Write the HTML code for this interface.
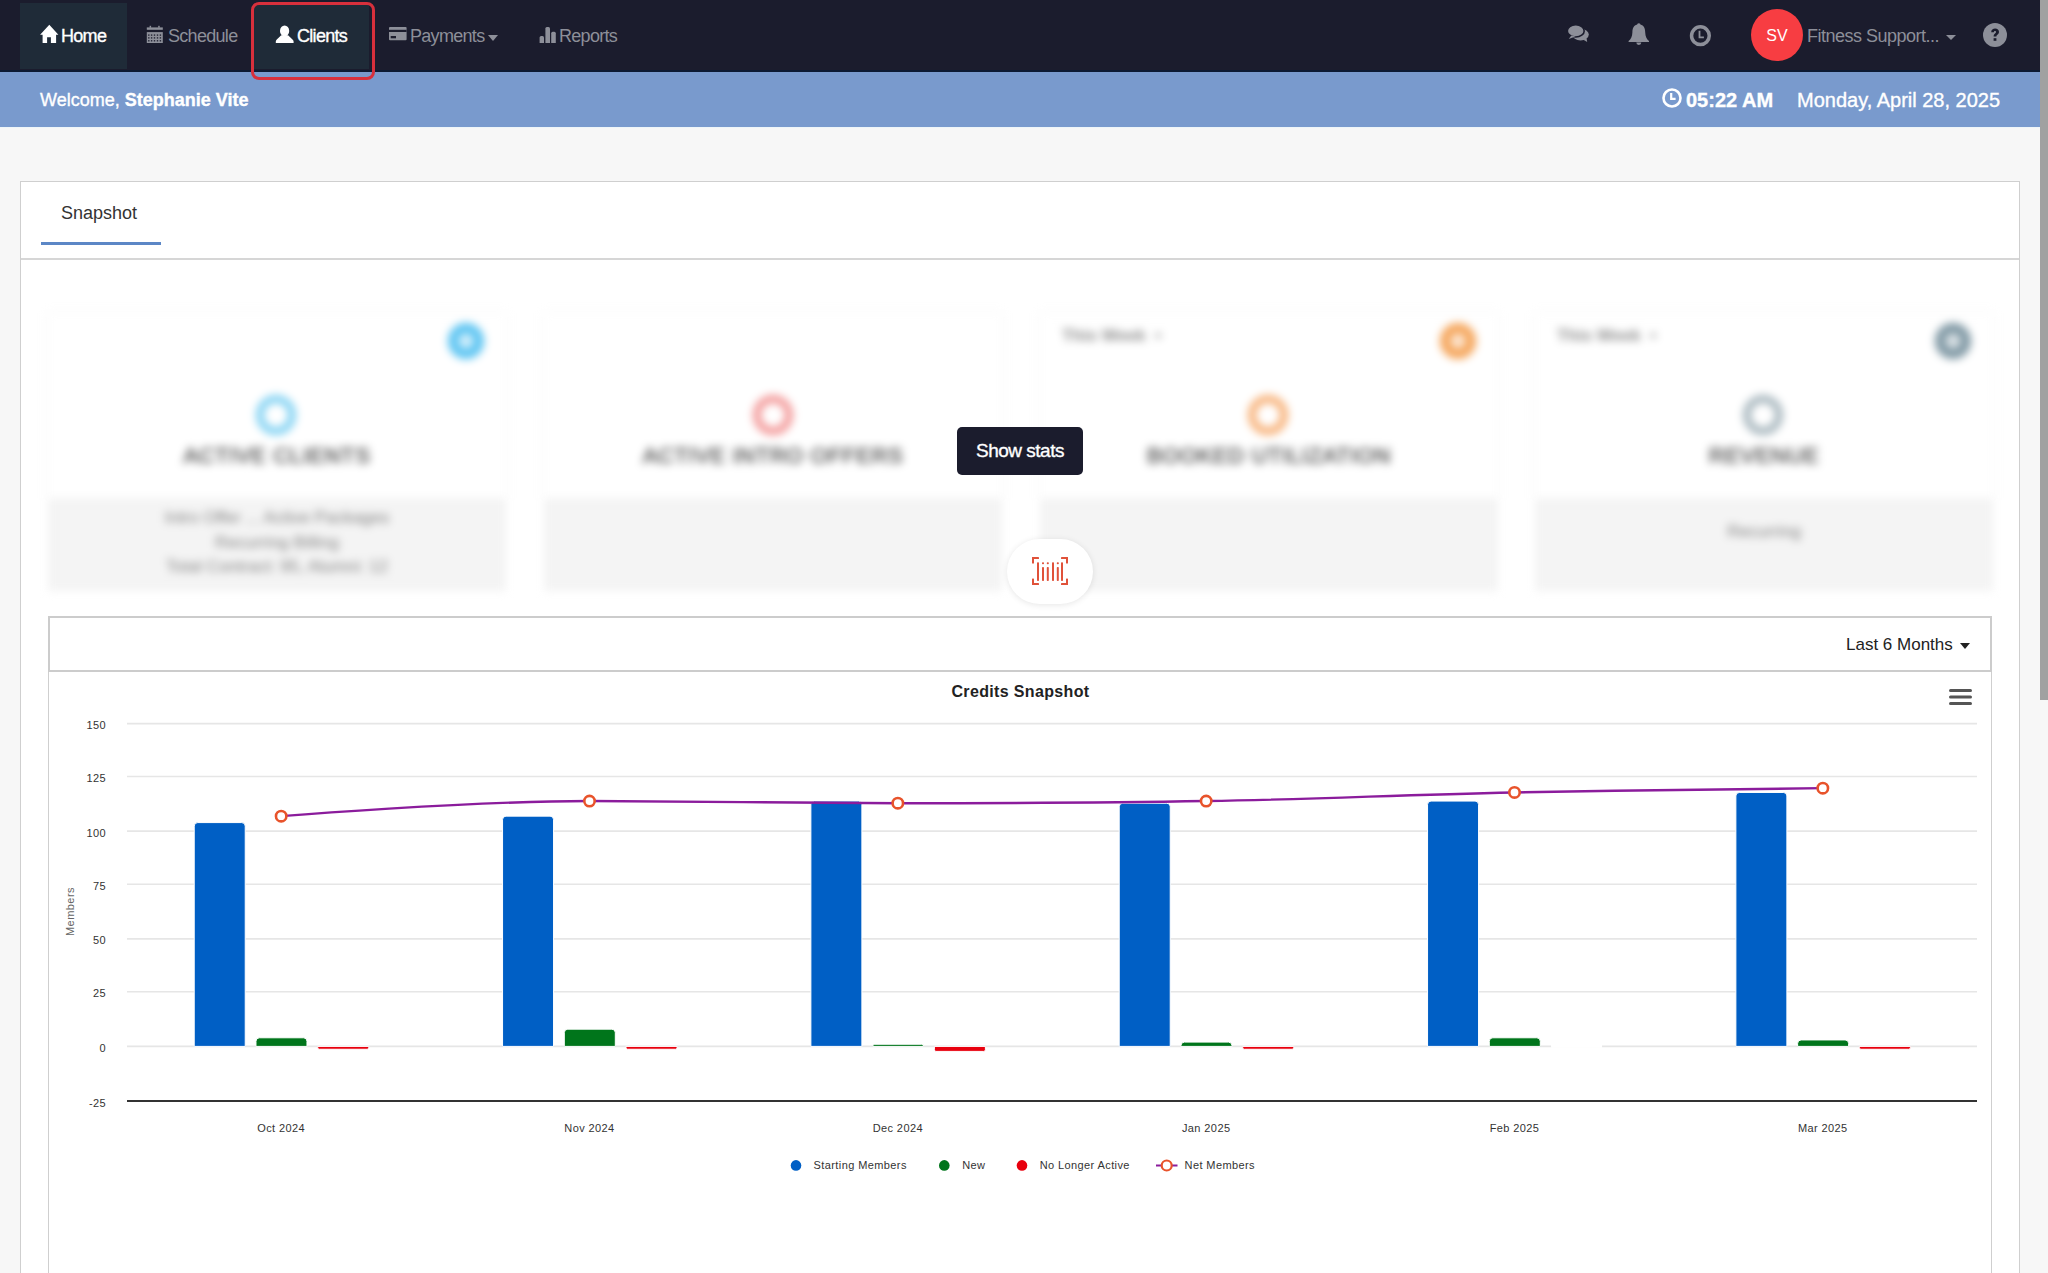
<!DOCTYPE html>
<html><head><meta charset="utf-8">
<style>
*{box-sizing:border-box;margin:0;padding:0}
html,body{width:2048px;height:1273px;overflow:hidden;background:#f7f7f7;font-family:"Liberation Sans",sans-serif;position:relative;-webkit-font-smoothing:antialiased}
.abs{position:absolute}
.nav{left:0;top:0;width:2040px;height:71px;background:#1b1c2d}
.navline{left:0;top:70px;width:2040px;height:2px;background:#0d1a33}
.tab{top:3px;height:66px;background:#1f2b38}
.nt{position:absolute;top:26px;font-size:18px;line-height:20px;color:#8d8f99;white-space:nowrap;letter-spacing:-0.7px}
.nt.w{color:#ffffff;-webkit-text-stroke:0.35px #fff}
.nt.f{letter-spacing:-0.5px}
.blue{left:0;top:72px;width:2040px;height:55px;background:#799acd}
.bt{position:absolute;font-size:18px;line-height:20px;color:#fff;white-space:nowrap;-webkit-text-stroke:0.35px #fff}
.scroll{left:2040px;top:0;width:8px;height:700px;background:#a1a1a1}
.card{left:20px;top:181px;width:2000px;height:1200px;background:#fff;border:1px solid #cfcfcf}
.ax{font-family:"Liberation Sans",sans-serif;font-size:11px;fill:#333;letter-spacing:0.4px}
.lg{font-family:"Liberation Sans",sans-serif;font-size:11px;fill:#333;letter-spacing:0.4px}
.yt{font-family:"Liberation Sans",sans-serif;font-size:11px;fill:#666;letter-spacing:0.45px}
.ttl{font-family:"Liberation Sans",sans-serif;font-size:16px;font-weight:bold;fill:#222;letter-spacing:0.35px}
.blur{filter:blur(4px)}
.sc{position:absolute;top:313px;width:458px;height:279px}
.sc .top{position:absolute;left:0;top:0;width:100%;height:185px;background:#fff;box-shadow:0 0 6px rgba(0,0,0,0.06)}
.sc .bot{position:absolute;left:0;top:185px;width:100%;height:93px;background:#f4f4f4}
.ring{position:absolute;width:40px;height:40px;border-radius:50%;border:8px solid #7fd0f2;top:82px}
.ico{position:absolute;width:36px;height:36px;border-radius:50%;top:10px;right:22px}
.ico:after{content:"";position:absolute;left:10px;top:10px;width:16px;height:16px;border-radius:50%;background:rgba(255,255,255,0.7)}
.stt{position:absolute;left:0;width:100%;text-align:center;top:130px;font-size:22px;font-weight:normal;color:#555;letter-spacing:0.6px;-webkit-text-stroke:0.7px #555}
.ft{position:absolute;left:0;width:100%;text-align:center;font-size:17px;color:#808080;line-height:24.5px}
.wk{position:absolute;left:22px;top:13px;font-size:17px;color:#8a8a8a;font-weight:bold}
</style></head><body>
<!-- NAVBAR -->
<div class="abs nav"></div>
<div class="abs navline"></div>
<div class="abs tab" style="left:20px;width:107px"></div>
<div class="abs tab" style="left:254px;width:115px;top:5px;height:64px"></div>
<!-- home icon -->
<svg class="abs" style="left:40px;top:24px" width="19" height="19" viewBox="0 0 19 19"><path d="M9.3 0.7 L18.4 10.7 H16.1 V19 H10.9 V13.3 H7.1 V19 H2.6 V10.7 H0.1 Z" fill="#fff"/></svg>
<div class="nt w" style="left:61px">Home</div>
<!-- calendar icon -->
<svg class="abs" style="left:146px;top:25px" width="17" height="18" viewBox="0 0 17 18"><g fill="#8d8f99"><rect x="0.8" y="2.4" width="16" height="2.4"/><rect x="3.6" y="0.8" width="1.5" height="2"/><rect x="12.2" y="0.8" width="1.5" height="2"/><rect x="0.8" y="7.1" width="16" height="10.9"/></g><g fill="#1b1c2d"><rect x="2.10" y="9.45" width="1.4" height="1.3"/><rect x="2.10" y="12.25" width="1.4" height="1.3"/><rect x="2.10" y="15.15" width="1.4" height="1.3"/><rect x="4.90" y="9.45" width="1.4" height="1.3"/><rect x="4.90" y="12.25" width="1.4" height="1.3"/><rect x="4.90" y="15.15" width="1.4" height="1.3"/><rect x="7.80" y="9.45" width="1.4" height="1.3"/><rect x="7.80" y="12.25" width="1.4" height="1.3"/><rect x="7.80" y="15.15" width="1.4" height="1.3"/><rect x="10.80" y="9.45" width="1.4" height="1.3"/><rect x="10.80" y="12.25" width="1.4" height="1.3"/><rect x="10.80" y="15.15" width="1.4" height="1.3"/><rect x="13.70" y="9.45" width="1.4" height="1.3"/><rect x="13.70" y="12.25" width="1.4" height="1.3"/><rect x="13.70" y="15.15" width="1.4" height="1.3"/></g></svg>
<div class="nt" style="left:168px">Schedule</div>
<!-- person icon -->
<svg class="abs" style="left:275px;top:24px" width="19" height="20" viewBox="0 0 19 20"><g fill="#fff"><ellipse cx="9.6" cy="6.9" rx="4.6" ry="5.5"/><path d="M6.2 11.3 L1.8 15.4 Q0.8 16.3 0.8 17.6 V19.1 H18.6 V17.6 Q18.6 16.3 17.5 15.4 L13.1 11.3 Z"/></g></svg>
<div class="nt w" style="left:297px">Clients</div>
<!-- red outline -->

<!-- card icon -->
<svg class="abs" style="left:388.5px;top:27px" width="18" height="14" viewBox="0 0 18 14"><rect x="0" y="0" width="17.6" height="13.2" rx="1" fill="#8d8f99"/><rect x="0" y="2.8" width="17.6" height="2.2" fill="#1b1c2d"/><rect x="1.7" y="9" width="5.3" height="2.3" fill="#1b1c2d"/></svg>
<div class="nt" style="left:410px">Payments</div>
<svg class="abs" style="left:488px;top:35px" width="10" height="6" viewBox="0 0 10 6"><path d="M0 0 H10 L5 6 Z" fill="#8d8f99"/></svg>
<!-- bars icon -->
<svg class="abs" style="left:539px;top:27px" width="17" height="16" viewBox="0 0 17 16"><g fill="#8d8f99"><path d="M0.6 16 V10.6 Q0.6 9.1 2.1 9.1 H3.5 Q5 9.1 5 10.6 V16 Z"/><path d="M6.4 16 V1.6 Q6.4 0.1 7.9 0.1 H9.5 Q11 0.1 11 1.6 V16 Z"/><path d="M12.2 16 V6.2 Q12.2 4.7 13.7 4.7 H15.3 Q16.8 4.7 16.8 6.2 V16 Z"/></g></svg>
<div class="nt" style="left:559px">Reports</div>

<!-- right icons -->
<svg class="abs" style="left:1563px;top:20px" width="30" height="25" viewBox="0 0 30 25"><g fill="#8d8f99"><ellipse cx="17.6" cy="14.6" rx="8.2" ry="5.8"/><path d="M20 19.5 L24.2 22 L23.6 18.6 Z"/><ellipse cx="12.75" cy="10.9" rx="8.45" ry="6.1" stroke="#1b1c2d" stroke-width="1.6"/><path d="M8.3 15.6 L5.8 19 L12.5 16.6 Z"/></g></svg>
<svg class="abs" style="left:1628px;top:22px" width="22" height="24" viewBox="0 0 22 24"><g fill="#8d8f99"><path d="M10.8 1.2 C12.1 1.2 12.4 2 12.4 2.6 C15.9 3.4 17.1 6.6 17.2 10.2 C17.4 14.6 18.6 17 21 18.9 V20 H0.6 V18.9 C3 17 4.2 14.6 4.4 10.2 C4.5 6.6 5.7 3.4 9.2 2.6 C9.2 2 9.5 1.2 10.8 1.2 Z"/><path d="M8.3 20.6 A2.5 2.4 0 0 0 13.3 20.6 Z"/></g></svg>
<svg class="abs" style="left:1689px;top:24px" width="23" height="23" viewBox="0 0 23 23"><circle cx="11.4" cy="11.7" r="8.85" fill="none" stroke="#8d8f99" stroke-width="3.5"/><path d="M10.5 6.7 V13.4 H14.9" fill="none" stroke="#8d8f99" stroke-width="1.8"/></svg>
<div class="abs" style="left:1751px;top:9px;width:52px;height:52px;border-radius:50%;background:#f73d42"></div>
<div class="abs" style="left:1751px;top:26px;width:52px;text-align:center;color:#fff;font-size:16px;line-height:20px">SV</div>
<div class="nt f" style="left:1807px">Fitness Support...</div>
<svg class="abs" style="left:1946px;top:35px" width="10" height="5" viewBox="0 0 10 5"><path d="M0 0 H10 L5 5 Z" fill="#8d8f99"/></svg>
<svg class="abs" style="left:1983px;top:23px" width="24" height="24" viewBox="0 0 24 24"><circle cx="12" cy="12" r="12" fill="#8d8f99"/><path d="M8.2 9.2 C8.2 6.8 10 5.6 12.1 5.6 C14.4 5.6 16 7 16 8.9 C16 11.3 13.4 11.4 13.4 13.6 H10.6 C10.6 10.5 13 10.3 13 8.9 C13 8.2 12.6 7.9 12 7.9 C11.3 7.9 10.9 8.4 10.9 9.2 Z" fill="#1b1c2d"/><rect x="10.6" y="15.2" width="2.8" height="2.6" fill="#1b1c2d"/></svg>

<!-- welcome bar -->
<div class="abs blue"></div>
<div class="abs" style="left:0;top:127px;width:2040px;height:1px;background:#eef5f8"></div>
<div class="bt" style="left:40px;top:90px">Welcome, <b>Stephanie Vite</b></div>
<svg class="abs" style="left:1662px;top:88px" width="20" height="20" viewBox="0 0 20 20"><circle cx="10" cy="10" r="8.5" fill="none" stroke="#fff" stroke-width="2.6"/><path d="M9.2 5 V10.8 H13.6" fill="none" stroke="#fff" stroke-width="2.2"/></svg>
<div class="bt" style="left:1686px;top:90px;font-size:20px;font-weight:bold">05:22 AM</div>
<div class="bt" style="left:1797px;top:90px;font-size:20px">Monday, April 28, 2025</div>

<!-- scrollbar -->
<div class="abs scroll"></div>

<!-- main card -->
<div class="abs card"></div>
<div class="abs" style="left:61px;top:203px;font-size:18px;line-height:20px;color:#333">Snapshot</div>
<div class="abs" style="left:41px;top:242px;width:120px;height:3px;background:#5c87c6"></div>
<div class="abs" style="left:21px;top:258px;width:1998px;height:2px;background:#d6d6d6"></div>

<!-- stat cards (blurred) -->
<div class="abs blur" style="left:0;top:0;width:2040px;height:620px">
  <div class="sc" style="left:48px">
    <div class="top"><div class="ico" style="background:#5bc4f2"></div><div class="ring" style="left:208px;border-color:#85d3f3"></div><div class="stt">ACTIVE CLIENTS</div></div>
    <div class="bot"><div class="ft" style="top:8px">Intro Offer ... Active Packages<br>Recurring Billing<br>Total Contract: 95, Alumni: 12</div></div>
  </div>
  <div class="sc" style="left:544px">
    <div class="top"><div class="ring" style="left:209px;border-color:#f39a9a"></div><div class="stt">ACTIVE INTRO OFFERS</div></div>
    <div class="bot"></div>
  </div>
  <div class="sc" style="left:1040px">
    <div class="top"><div class="wk">This Week &nbsp;&#8226;</div><div class="ico" style="background:#f5a55a"></div><div class="ring" style="left:208px;border-color:#f7b27a"></div><div class="stt">BOOKED UTILIZATION</div></div>
    <div class="bot"></div>
  </div>
  <div class="sc" style="left:1535px">
    <div class="top"><div class="wk">This Week &nbsp;&#8226;</div><div class="ico" style="background:#7e97a3"></div><div class="ring" style="left:208px;border-color:#a9b8bf"></div><div class="stt">REVENUE</div></div>
    <div class="bot"><div class="ft" style="top:22px">Recurring</div></div>
  </div>
</div>

<!-- show stats button -->
<div class="abs" style="left:957px;top:427px;width:126px;height:48px;background:#1b1c2d;border-radius:5px"></div>
<div class="abs" style="left:957px;top:441px;width:126px;text-align:center;color:#fff;font-size:19px;line-height:20px;letter-spacing:-0.5px;-webkit-text-stroke:0.35px #fff">Show stats</div>
<!-- barcode button -->
<div class="abs" style="left:1007px;top:539px;width:86px;height:65px;border-radius:33px;background:#fff;box-shadow:0 1px 6px rgba(0,0,0,0.10)"></div>
<svg class="abs" style="left:1030px;top:555px" width="40" height="32" viewBox="0 0 40 32"><g fill="#e0523a"><rect x="2" y="2" width="7" height="2" rx="0.6"/><rect x="2" y="2" width="2" height="6.5" rx="0.6"/><rect x="2" y="28" width="7" height="2" rx="0.6"/><rect x="2" y="23.5" width="2" height="6.5" rx="0.6"/><rect x="31" y="2" width="7" height="2" rx="0.6"/><rect x="36" y="2" width="2" height="6.5" rx="0.6"/><rect x="31" y="28" width="7" height="2" rx="0.6"/><rect x="36" y="23.5" width="2" height="6.5" rx="0.6"/><rect x="7" y="7.3" width="2" height="18.7" rx="0.8"/><rect x="22" y="7.3" width="2" height="18.7" rx="0.8"/><rect x="31" y="7.3" width="2" height="18.7" rx="0.8"/><rect x="12" y="7.3" width="2" height="2" rx="0.8"/><rect x="12" y="12" width="2" height="14" rx="0.8"/><rect x="16.8" y="7.3" width="2" height="2" rx="0.8"/><rect x="16.8" y="12" width="2" height="14" rx="0.8"/><rect x="26.8" y="7.3" width="2" height="2" rx="0.8"/><rect x="26.8" y="12" width="2" height="14" rx="0.8"/></g></svg>

<!-- chart card -->
<div class="abs" style="left:48px;top:616px;width:1944px;height:700px;background:#fff;border:1px solid #cfcfcf"></div>
<div class="abs" style="left:48px;top:616px;width:1944px;height:56px;background:#fff;border:2px solid #cccccc"></div>
<div class="abs" style="left:1846px;top:635px;font-size:17px;line-height:20px;color:#222">Last 6 Months</div>
<svg class="abs" style="left:1960px;top:643px" width="10" height="6" viewBox="0 0 10 6"><path d="M0 0 H10 L5 6 Z" fill="#222"/></svg>
<svg width="2048" height="1273" viewBox="0 0 2048 1273" style="position:absolute;left:0;top:0">
<path d="M127 723.6 H1977" stroke="#e6e6e6" stroke-width="1.6"/>
<path d="M127 776.5 H1977" stroke="#e6e6e6" stroke-width="1.6"/>
<path d="M127 831.1 H1977" stroke="#e6e6e6" stroke-width="1.6"/>
<path d="M127 884.2 H1977" stroke="#e6e6e6" stroke-width="1.6"/>
<path d="M127 938.9 H1977" stroke="#e6e6e6" stroke-width="1.6"/>
<path d="M127 991.8 H1977" stroke="#e6e6e6" stroke-width="1.6"/>
<path d="M127 1046.4 H1977" stroke="#e6e6e6" stroke-width="1.6"/>
<path d="M127 1101.0 H1977" stroke="#333333" stroke-width="2"/>
<text x="106" y="729.1" text-anchor="end" class="ax">150</text>
<text x="106" y="782.0" text-anchor="end" class="ax">125</text>
<text x="106" y="836.6" text-anchor="end" class="ax">100</text>
<text x="106" y="889.7" text-anchor="end" class="ax">75</text>
<text x="106" y="944.4" text-anchor="end" class="ax">50</text>
<text x="106" y="997.3" text-anchor="end" class="ax">25</text>
<text x="106" y="1051.9" text-anchor="end" class="ax">0</text>
<text x="106" y="1106.5" text-anchor="end" class="ax">-25</text>
<path d="M194.22 1046.40 V826.09 Q194.22 822.59 197.72 822.59 H241.72 Q245.22 822.59 245.22 826.09 V1046.40 Z" fill="#005fc5" stroke="#ffffff" stroke-width="1"/>
<path d="M502.55 1046.40 V819.64 Q502.55 816.14 506.05 816.14 H550.05 Q553.55 816.14 553.55 819.64 V1046.40 Z" fill="#005fc5" stroke="#ffffff" stroke-width="1"/>
<path d="M810.88 1046.40 V804.57 Q810.88 801.07 814.38 801.07 H858.38 Q861.88 801.07 861.88 804.57 V1046.40 Z" fill="#005fc5" stroke="#ffffff" stroke-width="1"/>
<path d="M1119.22 1046.40 V806.72 Q1119.22 803.22 1122.72 803.22 H1166.72 Q1170.22 803.22 1170.22 806.72 V1046.40 Z" fill="#005fc5" stroke="#ffffff" stroke-width="1"/>
<path d="M1427.55 1046.40 V804.57 Q1427.55 801.07 1431.05 801.07 H1475.05 Q1478.55 801.07 1478.55 804.57 V1046.40 Z" fill="#005fc5" stroke="#ffffff" stroke-width="1"/>
<path d="M1735.88 1046.40 V795.96 Q1735.88 792.46 1739.38 792.46 H1783.38 Q1786.88 792.46 1786.88 795.96 V1046.40 Z" fill="#005fc5" stroke="#ffffff" stroke-width="1"/>
<path d="M255.97 1046.40 V1041.29 Q255.97 1037.79 259.47 1037.79 H303.47 Q306.97 1037.79 306.97 1041.29 V1046.40 Z" fill="#00751b" stroke="#ffffff" stroke-width="1"/>
<path d="M564.30 1046.40 V1032.68 Q564.30 1029.18 567.80 1029.18 H611.80 Q615.30 1029.18 615.30 1032.68 V1046.40 Z" fill="#00751b" stroke="#ffffff" stroke-width="1"/>
<path d="M872.63 1046.40 V1046.40 Q872.63 1044.25 874.79 1044.25 H921.48 Q923.63 1044.25 923.63 1046.40 V1046.40 Z" fill="#00751b" stroke="#ffffff" stroke-width="1"/>
<path d="M1180.97 1046.40 V1045.60 Q1180.97 1042.10 1184.47 1042.10 H1228.47 Q1231.97 1042.10 1231.97 1045.60 V1046.40 Z" fill="#00751b" stroke="#ffffff" stroke-width="1"/>
<path d="M1489.30 1046.40 V1041.29 Q1489.30 1037.79 1492.80 1037.79 H1536.80 Q1540.30 1037.79 1540.30 1041.29 V1046.40 Z" fill="#00751b" stroke="#ffffff" stroke-width="1"/>
<path d="M1797.63 1046.40 V1043.44 Q1797.63 1039.94 1801.13 1039.94 H1845.13 Q1848.63 1039.94 1848.63 1043.44 V1046.40 Z" fill="#00751b" stroke="#ffffff" stroke-width="1"/>
<path d="M317.72 1046.40 V1047.65 Q317.72 1049.25 319.32 1049.25 H367.12 Q368.72 1049.25 368.72 1047.65 V1046.40 Z" fill="#e8000e" stroke="#ffffff" stroke-width="1"/>
<path d="M626.05 1046.40 V1047.65 Q626.05 1049.25 627.65 1049.25 H675.45 Q677.05 1049.25 677.05 1047.65 V1046.40 Z" fill="#e8000e" stroke="#ffffff" stroke-width="1"/>
<path d="M934.38 1046.40 V1049.80 Q934.38 1051.40 935.98 1051.40 H983.78 Q985.38 1051.40 985.38 1049.80 V1046.40 Z" fill="#e8000e" stroke="#ffffff" stroke-width="1"/>
<path d="M1242.72 1046.40 V1047.65 Q1242.72 1049.25 1244.32 1049.25 H1292.12 Q1293.72 1049.25 1293.72 1047.65 V1046.40 Z" fill="#e8000e" stroke="#ffffff" stroke-width="1"/>
<path d="M1551.05 1046.40 H1602.05" fill="#e8000e" stroke="#ffffff" stroke-width="2.6"/>
<path d="M1859.38 1046.40 V1047.65 Q1859.38 1049.25 1860.98 1049.25 H1908.78 Q1910.38 1049.25 1910.38 1047.65 V1046.40 Z" fill="#e8000e" stroke="#ffffff" stroke-width="1"/>
<path d="M281.17 816.14 C281.17 816.14 466.17 801.07 589.50 801.07 C712.83 801.07 774.50 803.22 897.83 803.22 C1021.17 803.22 1082.83 803.22 1206.17 801.07 C1329.50 798.92 1391.17 795.05 1514.50 792.46 C1637.83 789.88 1822.83 788.16 1822.83 788.16" fill="none" stroke="#8b1c9c" stroke-width="2.4"/>
<circle cx="281.17" cy="816.14" r="5.2" fill="#ffffff" stroke="#e8532b" stroke-width="2.6"/>
<circle cx="589.50" cy="801.07" r="5.2" fill="#ffffff" stroke="#e8532b" stroke-width="2.6"/>
<circle cx="897.83" cy="803.22" r="5.2" fill="#ffffff" stroke="#e8532b" stroke-width="2.6"/>
<circle cx="1206.17" cy="801.07" r="5.2" fill="#ffffff" stroke="#e8532b" stroke-width="2.6"/>
<circle cx="1514.50" cy="792.46" r="5.2" fill="#ffffff" stroke="#e8532b" stroke-width="2.6"/>
<circle cx="1822.83" cy="788.16" r="5.2" fill="#ffffff" stroke="#e8532b" stroke-width="2.6"/>
<text x="281.2" y="1132" text-anchor="middle" class="ax">Oct 2024</text>
<text x="589.5" y="1132" text-anchor="middle" class="ax">Nov 2024</text>
<text x="897.8" y="1132" text-anchor="middle" class="ax">Dec 2024</text>
<text x="1206.2" y="1132" text-anchor="middle" class="ax">Jan 2025</text>
<text x="1514.5" y="1132" text-anchor="middle" class="ax">Feb 2025</text>
<text x="1822.8" y="1132" text-anchor="middle" class="ax">Mar 2025</text>
<text x="0" y="0" transform="translate(73.5 911.5) rotate(-90)" text-anchor="middle" class="yt">Members</text>
<text x="1020.5" y="696.5" text-anchor="middle" class="ttl">Credits Snapshot</text>
<circle cx="796.0" cy="1165.4" r="5.3" fill="#005fc5"/>
<text x="813.6" y="1169" class="lg">Starting Members</text>
<circle cx="944.3" cy="1165.4" r="5.3" fill="#00751b"/>
<text x="962.2" y="1169" class="lg">New</text>
<circle cx="1022.0" cy="1165.4" r="5.3" fill="#e8000e"/>
<text x="1039.7" y="1169" class="lg">No Longer Active</text>
<path d="M1156 1165.5 H1177.5" stroke="#8b1c9c" stroke-width="2"/>
<circle cx="1166.7" cy="1165.5" r="5" fill="#fff" stroke="#e8532b" stroke-width="2.2"/>
<text x="1184.6" y="1169" class="lg">Net Members</text>
<path d="M1950.5 690.5 H1970.5" stroke="#555" stroke-width="3" stroke-linecap="round"/>
<path d="M1950.5 697.0 H1970.5" stroke="#555" stroke-width="3" stroke-linecap="round"/>
<path d="M1950.5 703.5 H1970.5" stroke="#555" stroke-width="3" stroke-linecap="round"/>
</svg>
<div class="abs" style="left:251px;top:2px;width:124px;height:78px;border:3px solid #d8303c;border-radius:8px"></div>
</body></html>
